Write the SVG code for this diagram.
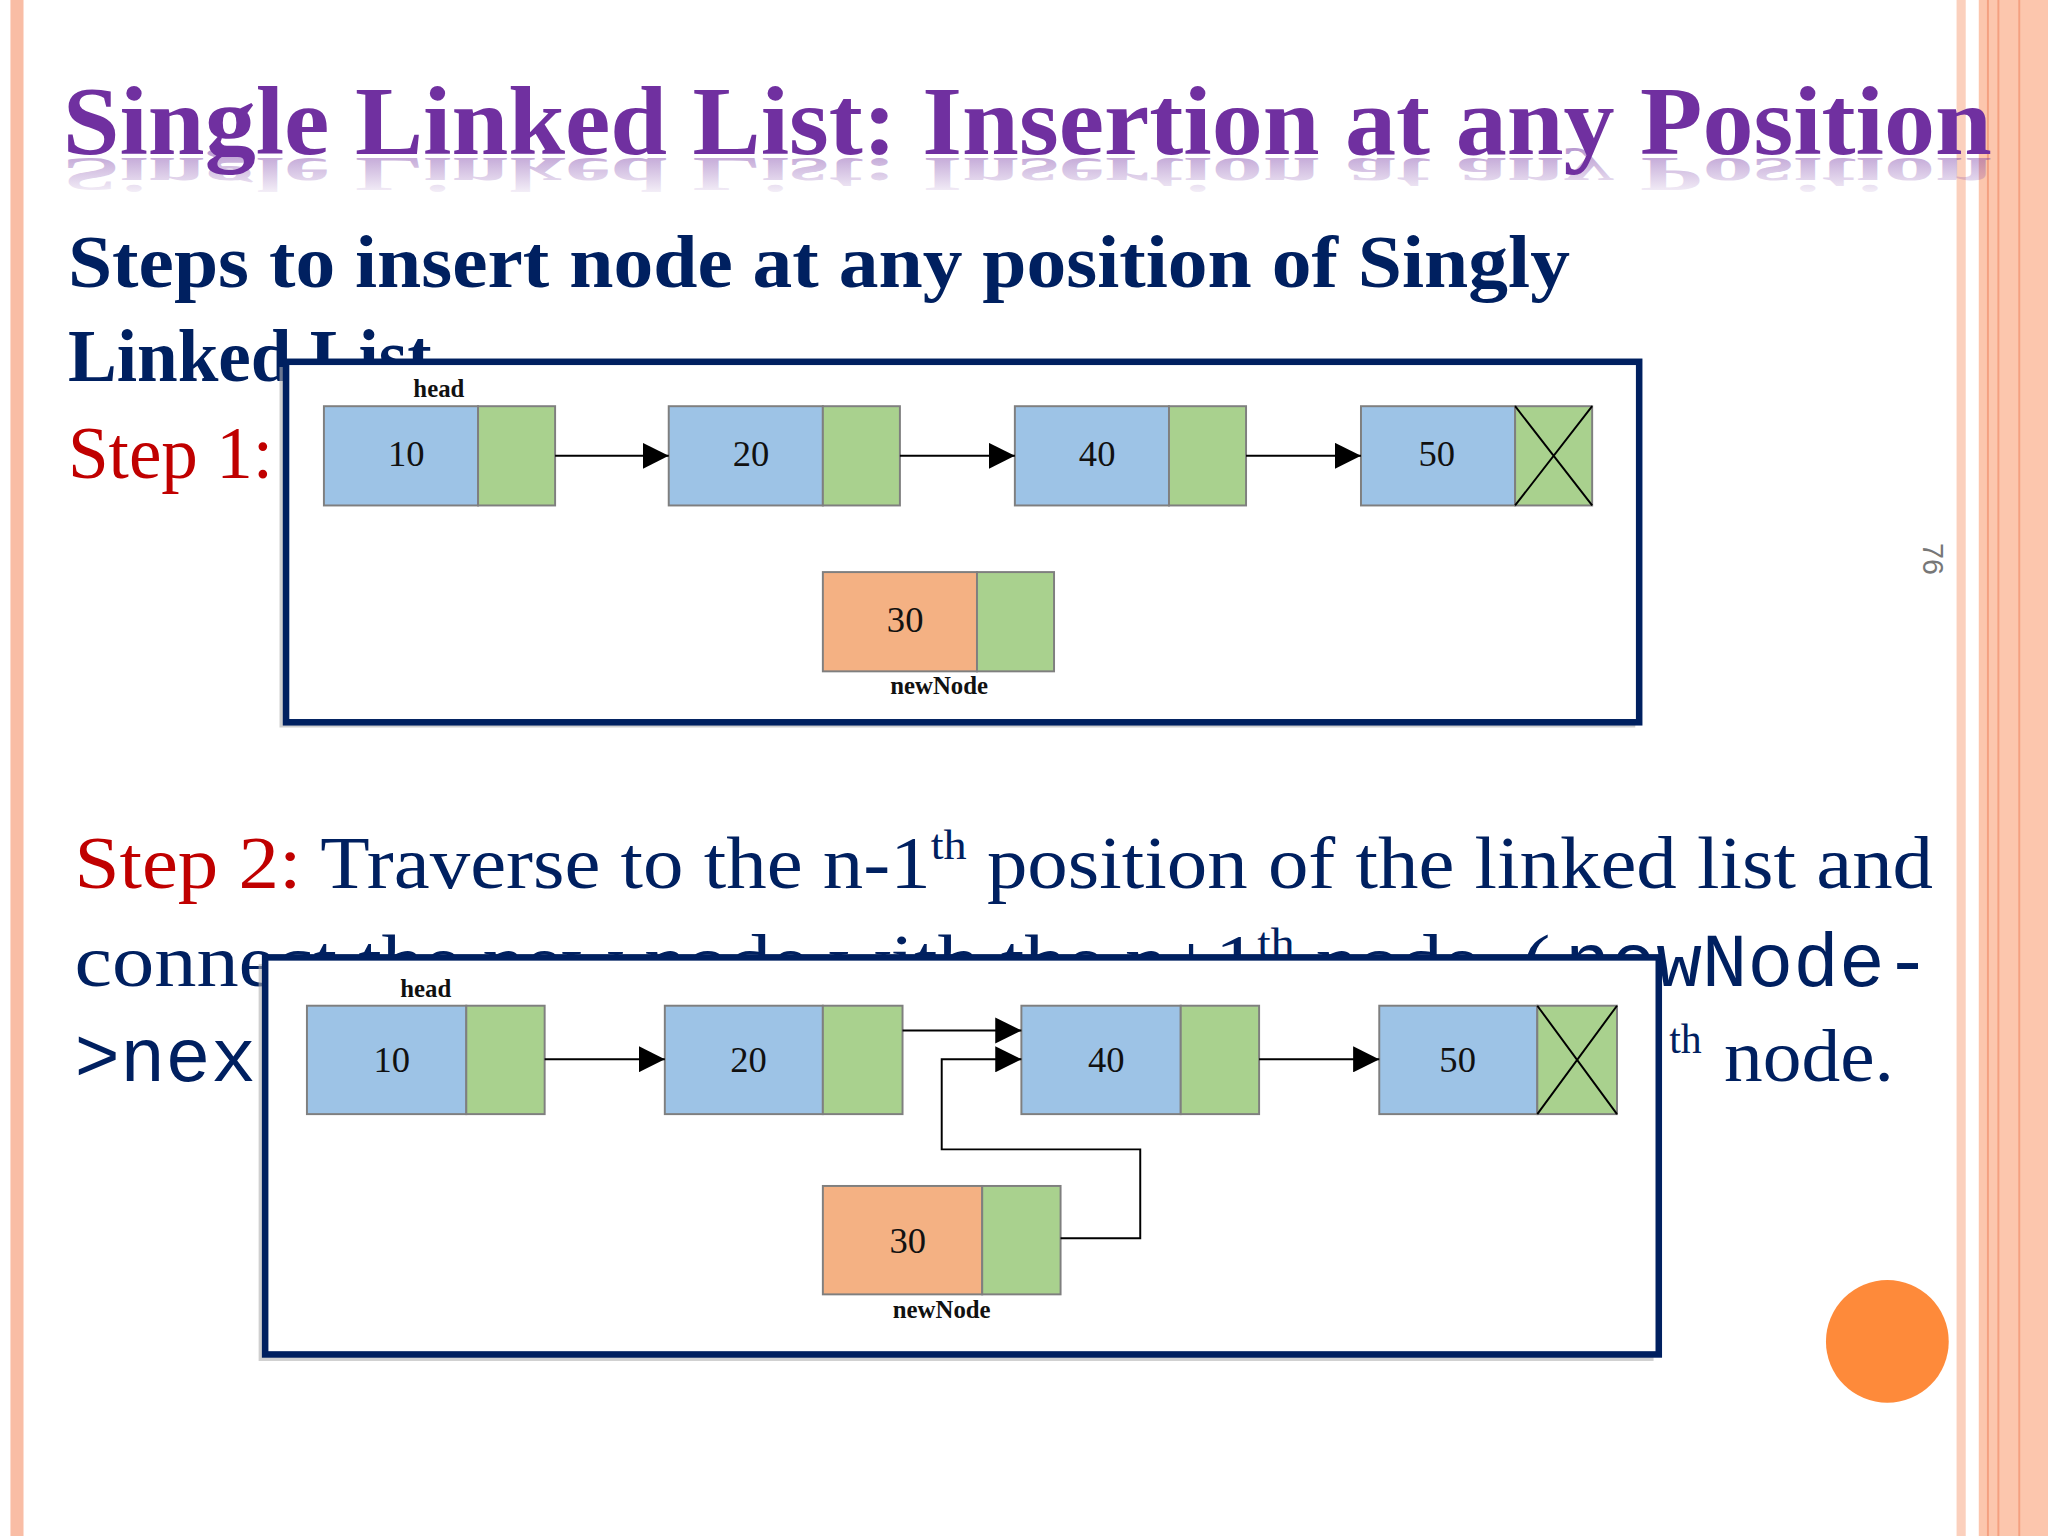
<svg xmlns="http://www.w3.org/2000/svg" width="2048" height="1536" viewBox="0 0 2048 1536">
<defs>
<style>
.nav{fill:#002060;font-family:"Liberation Serif",serif}
.red{fill:#c00000;font-family:"Liberation Serif",serif}
.mono{font-family:"Liberation Mono",monospace;fill:#002060}
.box{fill:#fff;stroke:#002060;stroke-width:5}
.d{fill:#9dc3e6;stroke:#7f7f7f;stroke-width:1.5}
.o{fill:#f4b183;stroke:#7f7f7f;stroke-width:1.5}
.n{fill:#a9d18e;stroke:#7f7f7f;stroke-width:1.5}
.v{font-family:"Liberation Serif",serif;font-size:28px;fill:#111;text-anchor:middle}
.lb{font-family:"Liberation Serif",serif;font-size:19px;font-weight:bold;fill:#111;text-anchor:middle}
.ln{stroke:#000;stroke-width:1.5;fill:none}
</style>
<marker id="a2" viewBox="0 0 10 10" refX="10" refY="5" markerWidth="20" markerHeight="20" markerUnits="userSpaceOnUse" orient="auto"><path d="M0,0L10,5L0,10z" fill="#000"/></marker>
<linearGradient id="rg" x1="0" y1="0" x2="0" y2="1"><stop offset="0" stop-color="#7030a0" stop-opacity="0"/><stop offset="1" stop-color="#7030a0" stop-opacity="0.5"/></linearGradient>
</defs>
<rect width="2048" height="1536" fill="#fff"/>
<g transform="scale(1.306122)">
<rect x="8" y="0" width="10" height="1176" fill="#f9bda5"/>
<rect x="1498" y="0" width="7" height="1176" fill="#fbd0bd"/>
<rect x="1515" y="0" width="53" height="1176" fill="#fcc6ad"/>
<line x1="1522" y1="0" x2="1522" y2="1176" stroke="#f4a080" stroke-width="1.5"/>
<line x1="1530" y1="0" x2="1530" y2="1176" stroke="#f4a080" stroke-width="1.5"/>
<line x1="1546" y1="0" x2="1546" y2="1176" stroke="#f4a080" stroke-width="1.5"/>
<g id="title">
<text x="48" y="118" font-family="Liberation Serif,serif" font-weight="bold" font-size="74" fill="#7030a0" textLength="1477" lengthAdjust="spacingAndGlyphs">Single Linked List: Insertion at any Position</text>
<g transform="translate(0,120) scale(1,-0.5) translate(0,-120)">
<text x="48" y="118" font-family="Liberation Serif,serif" font-weight="bold" font-size="74" fill="url(#rg)" textLength="1477" lengthAdjust="spacingAndGlyphs">Single Linked List: Insertion at any Position</text>
</g>
</g>
<text class="nav" x="52" y="220" font-size="56" font-weight="bold" textLength="1150" lengthAdjust="spacingAndGlyphs">Steps to insert node at any position of Singly</text>
<text class="nav" x="52" y="292" font-size="56" font-weight="bold">Linked List</text>
<text class="red" x="52" y="366" font-size="56">Step 1:</text>
<text x="1472" y="428" font-family="Liberation Sans,sans-serif" font-size="22" fill="#777" transform="rotate(90 1472 428)" text-anchor="middle">76</text>
<text x="57" y="680" font-size="56" class="nav" textLength="1423" lengthAdjust="spacingAndGlyphs"><tspan class="red">Step 2:</tspan> Traverse to the n-1<tspan font-size="32" dy="-22">th</tspan><tspan dy="22"> position of the linked list and</tspan></text>
<text x="57" y="755" font-size="56" class="nav" textLength="1130" lengthAdjust="spacingAndGlyphs">connect the new node with the n+1<tspan font-size="32" dy="-22">th</tspan><tspan dy="22"> node. (</tspan></text>
<text class="mono" x="1198" y="755" font-size="58" textLength="280" lengthAdjust="spacingAndGlyphs">newNode-</text>
<text x="57" y="828" font-size="58" class="mono">&gt;next</text>
<text x="1278" y="806" font-size="32" class="nav">th</text>
<text x="1320" y="828" font-size="56" class="nav" textLength="130" lengthAdjust="spacingAndGlyphs">node.</text>
<circle cx="1445" cy="1027" r="47" fill="#fe8a3a"/>

<g id="box1">
<rect x="214" y="281" width="1038" height="276" fill="#b0b0b0" opacity="0.6"/>
<rect class="box" x="219" y="277" width="1036" height="276"/>
</g>
<g id="b1n10"><rect class="d" x="248" y="311" width="118" height="76"/><rect class="n" x="366" y="311" width="59" height="76"/><text class="v" x="311" y="357">10</text><text class="lb" x="336" y="304">head</text></g>
<g id="b1n20"><rect class="d" x="512" y="311" width="118" height="76"/><rect class="n" x="630" y="311" width="59" height="76"/><text class="v" x="575" y="357">20</text></g>
<g id="b1n40"><rect class="d" x="777" y="311" width="118" height="76"/><rect class="n" x="895" y="311" width="59" height="76"/><text class="v" x="840" y="357">40</text></g>
<g id="b1n50"><rect class="d" x="1042" y="311" width="118" height="76"/><rect class="n" x="1160" y="311" width="59" height="76"/><path class="ln" d="M1160,311L1219,387M1219,311L1160,387"/><text class="v" x="1100" y="357">50</text></g>
<g id="b1n30"><rect class="o" x="630" y="438" width="118" height="76"/><rect class="n" x="748" y="438" width="59" height="76"/><text class="v" x="693" y="484">30</text><text class="lb" x="719" y="531">newNode</text></g>
<g id="b1conn">
<line class="ln" x1="425" y1="349" x2="512" y2="349" marker-end="url(#a2)"/>
<line class="ln" x1="689" y1="349" x2="777" y2="349" marker-end="url(#a2)"/>
<line class="ln" x1="954" y1="349" x2="1042" y2="349" marker-end="url(#a2)"/>
</g>

<g id="box2">
<rect x="198" y="738" width="1068" height="304" fill="#b0b0b0" opacity="0.6"/>
<rect class="box" x="203" y="733" width="1067" height="304"/>
</g>
<g id="b2n10"><rect class="d" x="235" y="770" width="122" height="83"/><rect class="n" x="357" y="770" width="60" height="83"/><text class="v" x="300" y="821">10</text><text class="lb" x="326" y="763">head</text></g>
<g id="b2n20"><rect class="d" x="509" y="770" width="121" height="83"/><rect class="n" x="630" y="770" width="61" height="83"/><text class="v" x="573" y="821">20</text></g>
<g id="b2n40"><rect class="d" x="782" y="770" width="122" height="83"/><rect class="n" x="904" y="770" width="60" height="83"/><text class="v" x="847" y="821">40</text></g>
<g id="b2n50"><rect class="d" x="1056" y="770" width="121" height="83"/><rect class="n" x="1177" y="770" width="61" height="83"/><path class="ln" d="M1177,770L1238,853M1238,770L1177,853"/><text class="v" x="1116" y="821">50</text></g>
<g id="b2n30"><rect class="o" x="630" y="908" width="122" height="83"/><rect class="n" x="752" y="908" width="60" height="83"/><text class="v" x="695" y="959">30</text><text class="lb" x="721" y="1009">newNode</text></g>
<g id="b2conn">
<line class="ln" x1="417" y1="811" x2="509" y2="811" marker-end="url(#a2)"/>
<line class="ln" x1="964" y1="811" x2="1056" y2="811" marker-end="url(#a2)"/>
<line class="ln" x1="691" y1="789" x2="782" y2="789" marker-end="url(#a2)"/>
<polyline class="ln" points="812,948 873,948 873,880 721,880 721,811 782,811" marker-end="url(#a2)"/>
</g>
</g>
</svg>
